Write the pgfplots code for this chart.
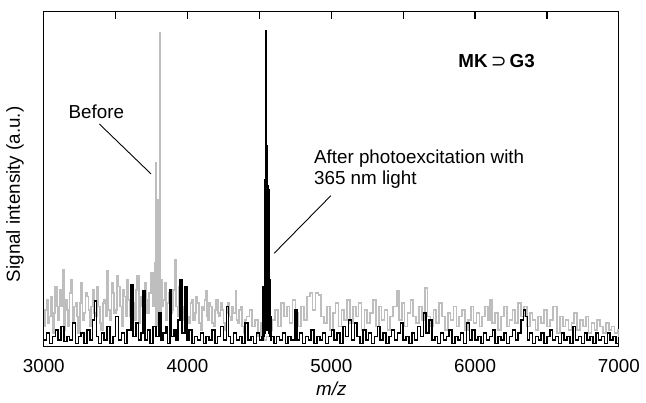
\documentclass[border=0pt]{standalone}
\usepackage{fontspec}
\setmainfont{Liberation Sans}
\newfontfamily\dejavu{DejaVu Sans}
\usepackage{pgfplots}
\pgfplotsset{compat=1.18}
\usetikzlibrary{calc}
\definecolor{spgray}{RGB}{190,190,190}

\begin{document}
\begin{tikzpicture}
\fontsize{19}{22}\selectfont
\begin{axis}[
  scale only axis,
  width=579bp, height=337bp,
  xmin=3000, xmax=7000, ymin=0, ymax=100,
  xtick={3000,4000,5000,6000,7000},
  major tick length=0pt,
  ytick=\empty,
  axis line style={line width=1.1pt},
  /pgf/number format/assume math mode=true,
  xticklabel={\pgfmathprintnumber[1000 sep={}]{\tick}},
  ticklabel style={font=\fontsize{19}{22}\selectfont},
  xticklabel style={yshift=-6bp},
  xlabel={\textit{m/z}},
  ylabel={Signal intensity (a.u.)},
  label style={font=\fontsize{19}{22}\selectfont},
  xlabel style={at={(axis description cs:0.50,-0.127)}, anchor=center},
  ylabel style={at={(axis description cs:-0.050,0.455)}, anchor=center},
  clip=true,
]
% before (gray)
\addplot[spgray, line width=1.7pt, const plot] coordinates {
(3000,6)(3010,11)(3020,14)(3030,7)(3040,9)(3050,15)(3060,4)(3070,10)(3080,18)(3090,12)
(3100,8)(3110,17)(3120,12)(3131,23)(3140,5)(3150,14)(3160,11)(3170,6)(3180,16)(3190,20)
(3200,7)(3210,12)(3220,13)(3230,9)(3240,4)(3250,13)(3260,19)(3270,8)(3280,10)(3290,16)
(3300,15)(3310,11)(3320,6)(3330,12)(3340,17)(3350,10)(3360,9)(3370,18)(3380,12)(3390,7)
(3400,5)(3410,13)(3420,14)(3430,9)(3442,22.5)(3450,11)(3460,8)(3470,19)(3480,16)(3490,10)
(3500,11)(3510,21)(3520,18)(3530,12)(3540,6)(3550,17)(3560,15)(3570,9)(3580,20)(3590,14)
(3600,9)(3610,18)(3620,13)(3630,8)(3640,17)(3650,21)(3660,7)(3670,15)(3680,12)(3690,9)
(3700,19)(3710,14)(3720,10)(3730,16)(3746,22)(3760,12)(3775,25)(3778,5)(3781,55)(3784,6)
(3787,42)(3790,6)(3793,44)(3796,6)(3799,40)(3802,6)(3805,35)(3808,93.8)(3811,6)(3814,20)
(3820,12)(3830,14)(3840,19)(3850,8)(3860,13)(3870,16)(3880,10)(3890,11)
(3900,17)(3912,26)(3920,12)(3930,9)(3940,18)(3950,15)(3960,8)(3970,12)(3980,16)(3990,18)
(4000,9)(4010,7)(4020,13)(4030,14)(4040,8)(4050,10)(4060,15)(4070,13)(4080,7)(4090,5)
(4100,12)(4110,11)(4118,14)(4126,16.6)(4134,9)(4140,8)(4150,13)(4160,12)(4170,7)(4180,6)
(4190,11)(4200,14)(4210,10)(4220,9)(4230,13)(4240,11)(4250,7)(4260,5)(4270,10)(4280,13)
(4290,9)(4300,8)(4310,12)(4320,10)(4333,16.6)(4340,8)(4350,7)(4360,11)(4370,12)(4380,6)
(4390,4)(4400,8)(4410,9)(4430,11)(4450,6)(4470,8)
(4490,3)(4510,7)(4530,2)(4550,3)(4570,5)(4590,8)(4610,11)(4630,6)(4650,13)(4670,9)
(4690,12)(4710,7)(4730,14)(4750,10)(4770,6)(4790,12)(4810,8)(4830,15)(4851,16)(4870,11)
(4890,16)(4910,15.5)(4930,9)(4950,7)(4970,12)(4990,5)(5010,10)(5030,13)(5050,6)(5070,11)
(5090,8)(5110,14)(5130,7)(5150,12)(5170,9)(5190,13)(5210,5)(5230,11)(5250,7)(5270,10)
(5290,14)(5310,6)(5330,12)(5350,8)(5370,11)(5390,5)(5410,9)(5430,12)(5459,16.6)(5470,8)
(5490,13)(5510,6)(5530,10)(5550,14)(5570,9)(5590,7)(5610,12)(5630,8)(5653,17.5)(5670,9)
(5690,6)(5710,11)(5730,7)(5750,13)(5770,9)(5790,5)(5810,10)(5830,8)(5850,12)(5870,6)
(5890,9)(5910,11)(5930,5)(5950,8)(5970,12)(5990,7)(6010,10)(6030,6)(6050,9)(6070,12)
(6090,8)(6102,14)(6120,7)(6140,10)(6160,5)(6180,9)(6200,12)(6220,6)(6240,8)(6260,11)
(6280,7)(6300,13)(6320,9)(6340,12)(6360,6)(6380,10)(6400,8)(6420,5)(6440,9)(6460,7)
(6480,11)(6500,6)(6520,8)(6540,12)(6558,12)(6570,4)(6590,9)(6610,6)(6630,8)(6650,5)
(6670,7)(6690,10)(6710,5)(6730,8)(6750,6)(6770,9)(6790,4)(6810,7)(6830,5)(6850,8)
(6870,6)(6890,4)(6910,7)(6930,5)(6950,6)(6970,4)(6990,5)(7000,3)
};
% after photoexcitation (black)
\addplot[black, line width=1.5pt, const plot] coordinates {
(3000,2)(3020,4)(3040,1)(3060,3)(3080,5)(3100,2)(3120,6)(3140,1.5)(3160,3)(3180,2)
(3200,7)(3220,1)(3240,3)(3260,4)(3280,1)(3300,5)(3320,2)(3340,8)(3352,13.6)(3365,3)
(3380,1)(3400,4)(3420,2)(3440,6)(3460,1)(3480,3)(3500,9)(3520,2)(3540,4)(3560,1)
(3580,5)(3608,18.4)(3620,3)(3640,7)(3660,2)(3675,4)(3691,16.6)(3705,2)(3720,5)(3740,1)
(3760,6)(3780,3)(3801,10)(3815,2)(3830,4)(3850,6)(3860,1)(3877,17)(3890,3)(3905,5)
(3920,2)(3935,8)(3946,20)(3960,4)(3981,18)(3995,2)(4010,5)(4030,1)(4050,3)(4070,2)
(4090,4)(4110,1)(4130,3)(4150,2)(4170,5)(4190,1)(4210,3)(4230,6)(4250,2)(4271,12)
(4285,3)(4300,1)(4320,4)(4340,2)(4360,3)(4380,1)(4400,7)(4420,2)(4440,3)(4460,1)
(4480,4)(4500,2)(4515,3)(4520,17)(4523,2)(4526,18)(4529,3)(4532,18)(4535,4)(4538,50)
(4541,5)(4544,94.4)(4547,6)(4550,60)(4553,5)(4556,48)(4559,5)(4562,47)(4565,4)(4568,46)
(4571,3)(4574,20)(4577,2)(4580,9)(4585,3)(4600,1)(4620,3)(4640,2)(4660,4)(4680,1)(4700,3)(4720,2)
(4748,11)(4760,2)(4780,4)(4800,1)(4820,3)(4840,2)(4860,5)(4880,1)(4900,3)(4920,2)
(4940,4)(4960,1)(4980,3)(5000,5)(5020,2)(5040,4)(5060,1)(5080,6)(5100,3)(5120,8)
(5140,2)(5160,7)(5180,3)(5200,1)(5220,5)(5240,2)(5260,4)(5280,1)(5300,3)(5320,6)
(5340,2)(5360,4)(5380,1)(5400,3)(5420,5)(5440,2)(5460,4)(5480,7)(5500,2)(5520,3)
(5540,1)(5560,4)(5580,2)(5600,6)(5620,3)(5640,10)(5660,4)(5680,8)(5700,2)(5720,3)
(5740,1)(5760,4)(5780,2)(5800,3)(5820,5)(5840,1)(5860,3)(5880,2)(5900,4)(5920,1)
(5940,7)(5960,2)(5980,5)(6000,2)(6020,3)(6040,1)(6060,4)(6080,2)(6100,3)(6120,5)
(6140,1)(6160,3)(6180,2)(6200,4)(6220,1)(6240,3)(6260,5)(6280,2)(6300,4)(6320,8)
(6337,11)(6350,9)(6365,2)(6380,4)(6400,1)(6420,3)(6440,2)(6460,4)(6480,1)(6500,3)
(6520,5)(6540,2)(6560,3)(6580,1)(6600,4)(6620,2)(6640,3)(6660,1)(6680,6)(6700,2)
(6720,3)(6740,1)(6760,4)(6780,2)(6800,3)(6820,1)(6840,4)(6860,2)(6880,3)(6900,1)
(6920,4)(6940,2)(6960,3)(6980,1)(7000,2)
};
% annotations
\draw[line width=0.9pt] (axis cs:3387,66.5) -- (axis cs:3746,51.6);
\draw[line width=0.9pt] (axis cs:4997,45.1) -- (axis cs:4603,27.9);
\node[font=\fontsize{19}{22}\selectfont] at (axis cs:3366,70.3) {Before};
\node[font=\fontsize{19}{22}\selectfont, anchor=west, align=left, inner sep=0pt]
  at (axis cs:4879,53.0) {After photoexcitation with\\365 nm light};
\node[font=\fontsize{19}{22}\selectfont\bfseries] at (axis cs:6150,85.2) {MK{\dejavu\mdseries\,⊃\,}G3};
\end{axis}
% top tick marks every 500 (inward)
\foreach \i in {1,...,7}{
  \draw[line width=1.3pt] ($(current axis.north west)!\i/8!(current axis.north east)$) -- ++(0,-7bp);
}
\useasboundingbox ([xshift=-44bp,yshift=-54bp]current axis.south west) rectangle ([xshift=23bp,yshift=12bp]current axis.north east);
\end{tikzpicture}
\end{document}
